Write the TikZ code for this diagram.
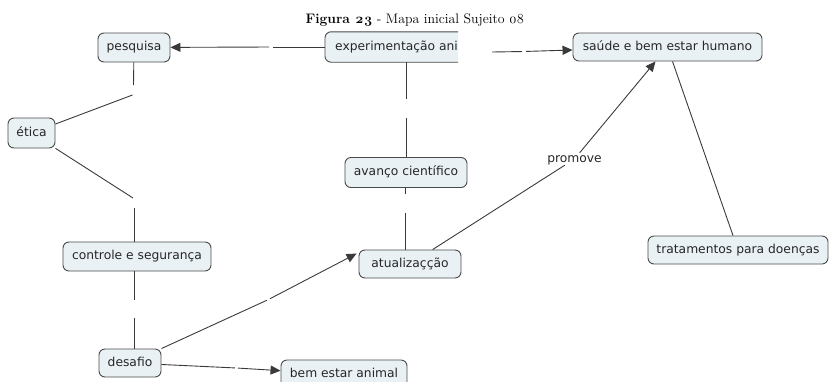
\documentclass[tikz,border=0pt]{standalone}
\usepackage{fontspec}
\setmainfont{Latin Modern Roman}
\newfontfamily\mapfont{DejaVu Sans}
\usetikzlibrary{arrows.meta,backgrounds}
\definecolor{conceptfill}{HTML}{EAF1F5}
\definecolor{conceptedge}{HTML}{4A4A4A}
\definecolor{linkline}{HTML}{3A3A3A}
\begin{document}
\begin{tikzpicture}[x=1pt,y=-1pt,
  maptext/.style={font=\mapfont\fontsize{12.3}{14}\selectfont, text height=9.3pt, text depth=2.9pt, text=black!85},
  concept/.style={maptext, draw=conceptedge, fill=conceptfill, line width=0.9pt,
    rounded corners=6pt, inner sep=0pt},
  gap/.style={inner sep=0pt, outer sep=0pt},
  conn/.style={draw=linkline, line width=0.9pt},
  tip/.style={conn, -{Triangle[length=10pt,width=9pt]}}]
\useasboundingbox (0,0) rectangle (829,381);

% title
\node (title) [anchor=base, font=\fontsize{13.8}{16}\selectfont] at (415,23.5)
  {\textbf{Figura \oldstylenums{23}} - Mapa inicial Sujeito \oldstylenums{08}};

% concepts
\node[concept, minimum width=72, minimum height=29] (pesquisa) at (134,47.5) {pesquisa};
\node[maptext, anchor=west, inner sep=0pt, minimum height=30] (exp) at (335,47) {experimentação ani};
\node[concept, minimum width=189, minimum height=28] (saude) at (667.5,47) {saúde e bem estar humano};
\node[concept, minimum width=47, minimum height=30] (etica) at (31.5,133) {ética};
\node[concept, minimum width=122, minimum height=30] (avanco) at (406,172.5) {avanço científico};
\node[concept, minimum width=102, minimum height=28] (atual) at (410,264) {atualizaçção};
\node[concept, minimum width=148, minimum height=29] (controle) at (137,256.5) {controle e segurança};
\node[concept, minimum width=62, minimum height=28] (desafio) at (130,363) {desafio};
\node[concept, minimum width=126, minimum height=29] (bem) at (344,374.5) {bem estar animal};
\node[concept, minimum width=180, minimum height=28] (trat) at (738,250) {tratamentos para doenças};

% box of the truncated concept, open on its right side
\begin{scope}[on background layer]
  \fill[conceptfill, rounded corners=6pt] (exp.north east) -- ([xshift=-10pt]exp.north west)
    -- ([xshift=-10pt]exp.south west) -- (exp.south east);
\end{scope}
\draw[conceptedge, line width=0.9pt, rounded corners=6pt] (exp.north east) -- ([xshift=-10pt]exp.north west)
  -- ([xshift=-10pt]exp.south west) -- (exp.south east);

% linking phrase
\node[maptext, inner xsep=2pt, inner ysep=0pt, text height=9pt, text depth=3pt] (promove) at (574.5,159) {promove};

% empty linking phrases (gaps in the connectors)
\node[gap, minimum width=4, minimum height=10] (l1) at (271,47) {};
\node[gap, minimum width=4, minimum height=10] (l2) at (524,51.5) {};
\node[gap, minimum width=4, minimum height=19] (l3) at (406.5,108.5) {};
\node[gap, minimum width=4, minimum height=19] (l4) at (405,203.5) {};
\node[gap, minimum width=2, minimum height=10] (l5) at (133.5,90) {};
\node[gap, minimum width=2, minimum height=10] (l6) at (134,203) {};
\node[gap, minimum width=2, minimum height=18] (l7) at (134,309) {};
\node[gap, minimum width=3, minimum height=3] (l8) at (268.5,299.5) {};
\node[gap, minimum width=3, minimum height=3] (l9) at (236.5,368) {};
\coordinate (expR) at (492,52);

% connectors
\draw[conn] ([xshift=-10pt]exp.west) -- (l1);
\draw[tip] (l1) -- (pesquisa);
\draw[conn] (expR) -- (l2);
\draw[tip] (l2) -- (saude);
\draw[conn] (l3.north |- exp.south) -- (l3.north);
\draw[conn] (l3.south) -- (l3.south |- avanco.north);
\draw[conn] (l4.north |- avanco.south) -- (l4.north);
\draw[conn] (l4.south) -- (l4.south |- atual.north);
\draw[conn] (pesquisa) -- (l5.north);
\draw[conn] (l5.south west) -- (etica);
\draw[conn] (etica) -- (l6.north west);
\draw[conn] (l6.south) -- (l6.south |- controle.north);
\draw[conn] (l7.north |- controle.south) -- (l7.north);
\draw[conn] (l7.south) -- (l7.south |- desafio.north);
\draw[conn] (desafio.north east) -- (l8);
\draw[tip] (l8) -- ([xshift=-2pt,yshift=-4pt]atual.north west);
\draw[conn] (desafio) -- (l9);
\draw[tip] (l9) -- (bem);
\draw[conn] (atual) -- (promove);
\draw[tip] (promove) -- (saude);
\draw[conn] (saude) -- (trat);
\end{tikzpicture}
\end{document}
